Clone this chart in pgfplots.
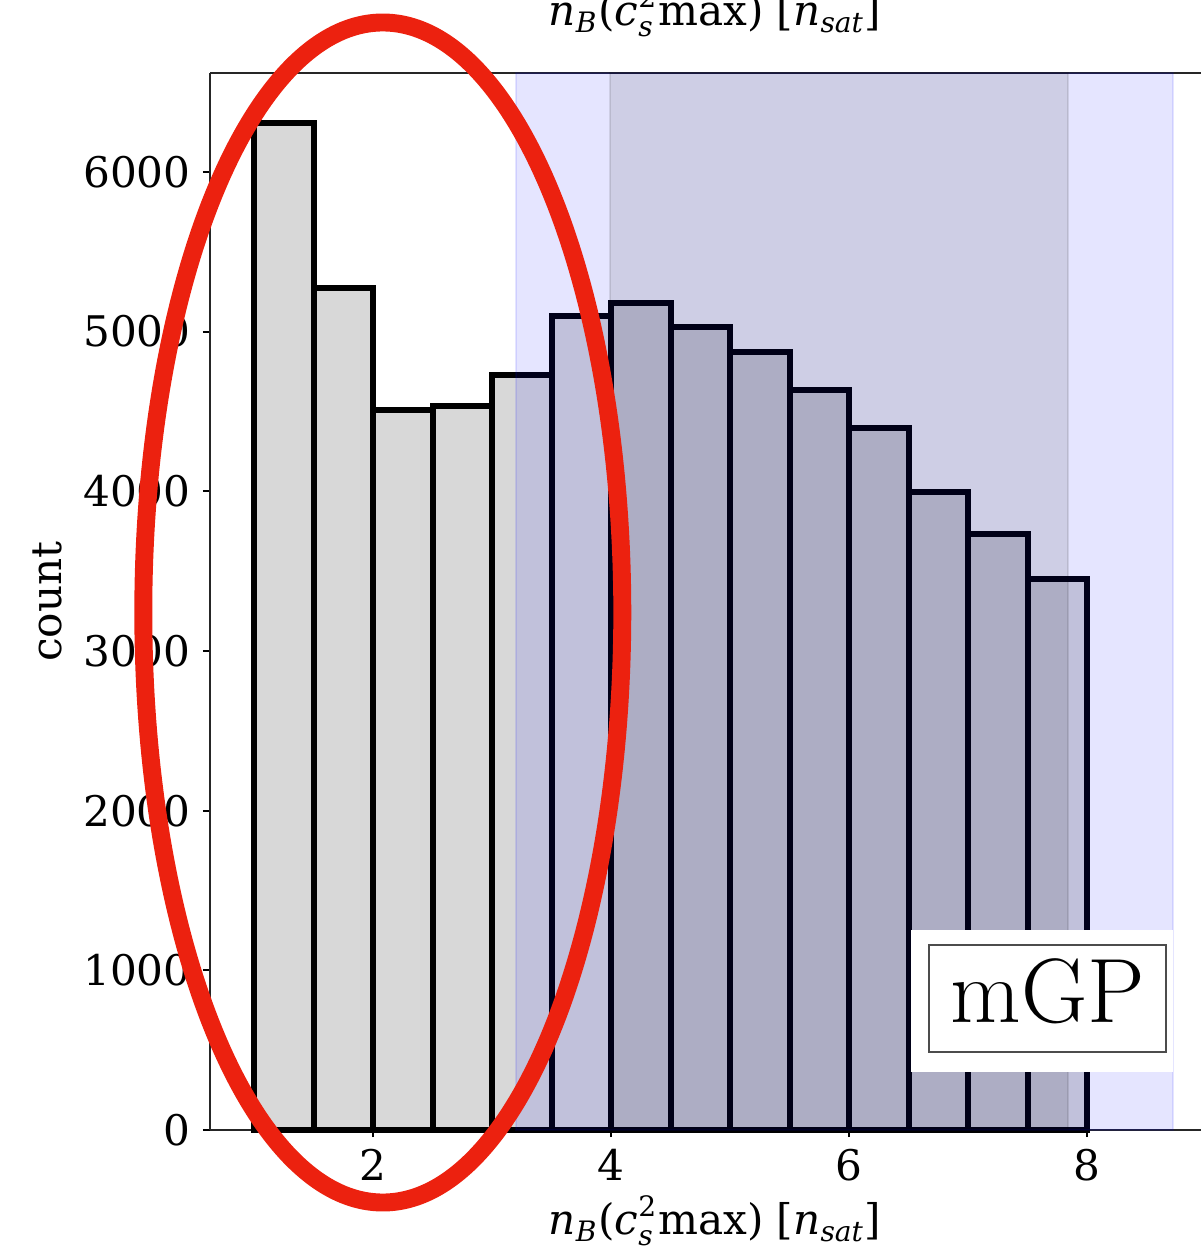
\documentclass[border=0pt]{standalone}
\usepackage{fontspec}
\usepackage{amsmath}
\usepackage{pgfplots}
\pgfplotsset{compat=1.18}

\newfontfamily\dvs{DejaVu Serif}
\newcommand\lblfont{\dvs\fontsize{12}{14}\selectfont}
\definecolor{barfill}{RGB}{216,216,216}
\definecolor{markred}{RGB}{236,33,15}
% n_B(c_s^2 max) [n_sat] in the label font
\newcommand\nbmax{\itshape n$_{\text{\itshape B}}$\upshape(\itshape c$^{\text{\upshape\raisebox{0.25ex}{2}}}_{\text{\itshape s}}$\upshape max) [\itshape n$_{\text{\itshape sat}}$\upshape]}

\begin{document}
\begin{tikzpicture}
\begin{axis}[
  scale only axis, width=10.1cm, height=10.57cm,
  xmin=0.628, xmax=9.115, ymin=0, ymax=6620,
  clip=false,
  axis x line*=box, axis y line*=left,
  axis line style={line width=0.7pt, black!85},
  xtick={2,4,6,8}, ytick={0,1000,...,6000},
  xtick pos=bottom, ytick pos=left,
  tick align=outside, major tick length=0.07cm,
  tick style={line width=0.6pt, black},
  tick label style={font=\lblfont},
  /pgf/number format/assume math mode=true,
  /pgf/number format/1000 sep={},
  scaled y ticks=false,
  xlabel={\nbmax}, ylabel={count},
  every axis x label/.style={at={(axis description cs:0.5,-0.0993)}, anchor=base, font=\lblfont},
  every axis y label/.style={at={(axis description cs:-0.1614,0.5)}, rotate=90, anchor=center, font=\lblfont},
]
% histogram, bins of width 0.5 from 1 to 8
\addplot[ybar, bar width=0.5, bar shift=0pt, fill=barfill, draw=black,
  line width=1.7pt, line join=miter] coordinates {
  (1.25,6307) (1.75,5273) (2.25,4509) (2.75,4534) (3.25,4728) (3.75,5098)
  (4.25,5179) (4.75,5029) (5.25,4873) (5.75,4634) (6.25,4397) (6.75,3996)
  (7.25,3733) (7.75,3451)
};
% shaded ranges
\filldraw[blue, opacity=0.1, line width=0.5pt] (axis cs:3.2,0) rectangle (axis cs:8.72,6620);
\filldraw[black, opacity=0.1, line width=0.5pt] (axis cs:3.99,0) rectangle (axis cs:7.84,6620);
% label of the upper panel
\node[anchor=base, font=\lblfont] at ([yshift=0.47cm]axis description cs:0.5,1) {\nbmax};
% highlight
\draw[markred, line width=5.1pt] (axis cs:2.08,3241) ellipse [x radius=2.395cm, y radius=5.90cm];
% model tag
\fill[white] (axis cs:6.521,363) rectangle (axis cs:8.723,1253);
\draw[black!70, line width=0.55pt] (axis cs:6.672,489) rectangle (axis cs:8.664,1159);
\node[anchor=base, inner sep=0pt, font=\fontsize{26}{30}\selectfont] at (axis cs:7.667,676) {mGP};
\end{axis}
\pgfresetboundingbox
\path[use as bounding box] (-2.10cm,-1.21cm) rectangle (9.90cm,11.30cm);
\end{tikzpicture}
\end{document}
